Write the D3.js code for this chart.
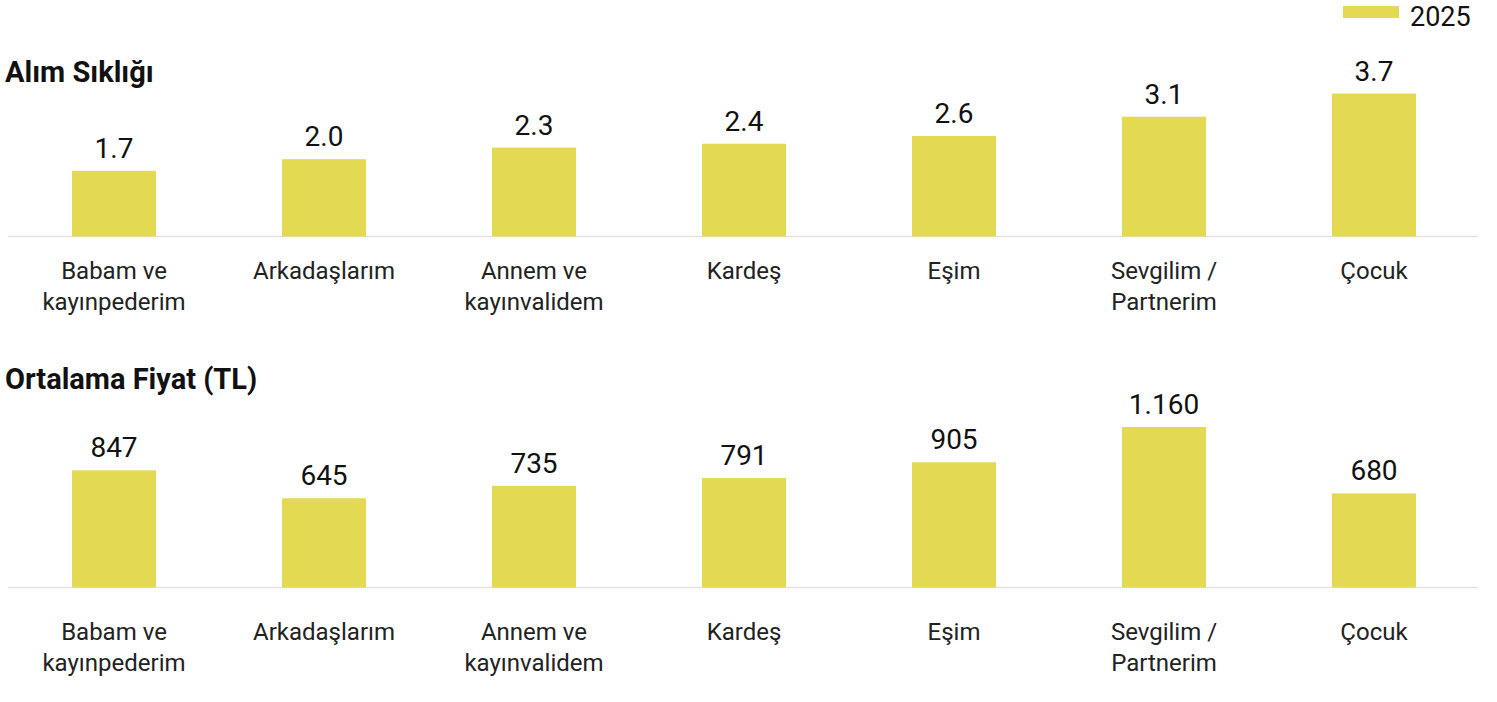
<!DOCTYPE html>
<html>
<head>
<meta charset="utf-8">
<script src="https://cdn.jsdelivr.net/npm/d3@7"></script>
<style>
  body { margin: 0; background: #fff; }
  svg { display: block; font-family: Roboto, "Noto Sans", sans-serif; }
</style>
</head>
<body>
<div id="container"></div>
<script>
/* DATA */
const categories = ["Babam ve\nkayınpederim", "Arkadaşlarım", "Annem ve\nkayınvalidem", "Kardeş", "Eşim", "Sevgilim /\nPartnerim", "Çocuk"];
const frequency = [1.7, 2.0, 2.3, 2.4, 2.6, 3.1, 3.7];
const avgPrice = [847, 645, 735, 791, 905, 1160, 680];
const legendLabel = "2025";

/* CONSTANTS */
const width = 1497, height = 702;
const barColor = "#e3d953";

const trLocale = d3.formatLocale({decimal: ",", thousands: ".", grouping: [3], currency: ["", " TL"]});

const panels = [
  {title: "Alım Sıklığı", titleY: 82, base: 236.5, top: 93.5, values: frequency,
   fmt: d3.format(".1f"), labelOffset: 42.5},
  {title: "Ortalama Fiyat (TL)", titleY: 389, base: 587.5, top: 427, values: avgPrice,
   fmt: trLocale.format(",d"), labelOffset: 52.5}
];

const svg = d3.select("#container")
  .append("svg")
  .attr("width", width)
  .attr("height", height)
  .attr("viewBox", [0, 0, width, height]);

const x = d3.scaleBand()
  .domain(categories)
  .range([9, 1479])
  .paddingInner(0.6)
  .paddingOuter(0.3);

// legend
svg.append("rect")
  .attr("x", 1343).attr("y", 6)
  .attr("width", 56).attr("height", 12)
  .attr("fill", barColor);
svg.append("text")
  .attr("x", 1410).attr("y", 26)
  .attr("font-size", 27)
  .attr("fill", "#111")
  .text(legendLabel);

panels.forEach(p => {
  const y = d3.scaleLinear()
    .domain([0, d3.max(p.values)])
    .range([p.base, p.top]);

  const g = svg.append("g");

  g.append("text")
    .attr("x", 5).attr("y", p.titleY)
    .attr("font-size", 29)
    .attr("font-weight", 700)
    .attr("fill", "#111")
    .text(p.title);

  g.append("line")
    .attr("x1", 8).attr("x2", 1478)
    .attr("y1", p.base).attr("y2", p.base)
    .attr("stroke", "#e2e2e2")
    .attr("stroke-width", 1.5);

  g.selectAll("rect.bar")
    .data(p.values)
    .join("rect")
    .attr("class", "bar")
    .attr("x", (d, i) => x(categories[i]))
    .attr("y", d => y(d))
    .attr("width", x.bandwidth())
    .attr("height", d => y(0) - y(d))
    .attr("fill", barColor);

  g.selectAll("text.value")
    .data(p.values)
    .join("text")
    .attr("class", "value")
    .attr("text-anchor", "middle")
    .attr("x", (d, i) => x(categories[i]) + x.bandwidth() / 2)
    .attr("y", d => y(d) - 13)
    .attr("font-size", 28)
    .attr("fill", "#111")
    .text(d => p.fmt(d));

  const cat = g.selectAll("text.cat")
    .data(categories)
    .join("text")
    .attr("class", "cat")
    .attr("text-anchor", "middle")
    .attr("font-size", 24)
    .attr("fill", "#222")
    .attr("x", d => x(d) + x.bandwidth() / 2)
    .attr("y", p.base + p.labelOffset);

  cat.selectAll("tspan")
    .data(d => d.split("\n"))
    .join("tspan")
    .attr("x", function() { return this.parentNode.getAttribute("x"); })
    .attr("dy", (d, i) => i === 0 ? 0 : 31)
    .text(d => d);
});
</script>
</body>
</html>
